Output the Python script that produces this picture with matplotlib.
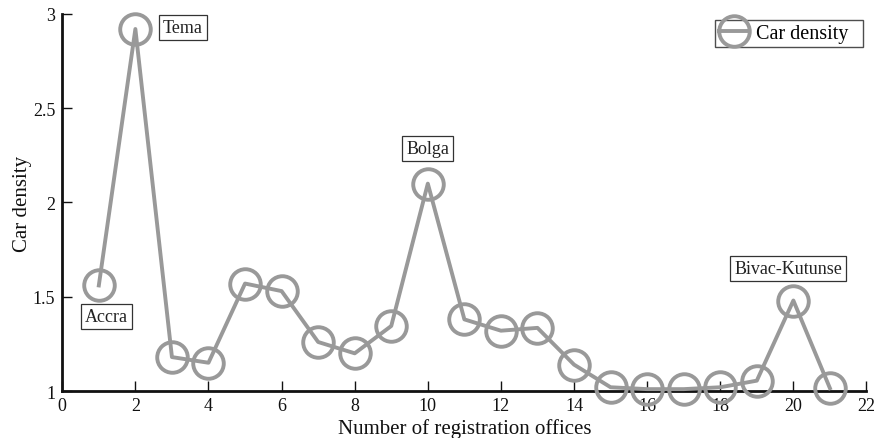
import numpy as np
import matplotlib.pyplot as plt

# registration offices and their car density
offices = np.arange(1, 22)
car_density = [1.56, 2.92, 1.18, 1.15, 1.57, 1.53, 1.26, 1.20, 1.345, 2.10,
               1.38, 1.32, 1.335, 1.14, 1.02, 1.01, 1.01, 1.02, 1.055, 1.48, 1.015]

# labelled offices: (name, x, y)
labels = ["Tema", "Accra", "Bolga", "Bivac-Kutunse"]
label_x = [3.30, 1.20, 10.0, 19.86]
label_y = [2.93, 1.393, 2.287, 1.65]

x_ticks = np.arange(0, 23, 2)
y_ticks = [1, 1.5, 2, 2.5, 3]

plt.rcParams['font.family'] = ['Liberation Serif', 'DejaVu Serif']

fig = plt.figure(figsize=(8.77, 4.39), dpi=100)
ax = fig.add_axes([0.071, 0.107, 0.917, 0.859])

gray = '#999999'
ax.plot(offices, car_density, color=gray, lw=2.8, marker='o', ms=22,
        mfc='none', mec=gray, mew=2.8, clip_on=False, label='Car density',
        zorder=3)

for name, lx, ly in zip(labels, label_x, label_y):
    ax.text(lx, ly, name, ha='center', va='center', fontsize=13,
            color='#222222',
            bbox=dict(boxstyle='square,pad=0.22', fc='white', ec='#333333',
                      lw=0.9))

ax.set_xlim(0, 22)
ax.set_ylim(1, 3)
ax.set_xticks(x_ticks)
ax.set_yticks(y_ticks)
ax.set_yticklabels(['1', '1.5', '2', '2.5', '3'])

for s in ['top', 'right']:
    ax.spines[s].set_visible(False)
for s in ['left', 'bottom']:
    ax.spines[s].set_linewidth(2)
    ax.spines[s].set_color('#111111')

ax.tick_params(direction='in', length=7, width=1, labelsize=13,
               colors='#111111')
ax.tick_params(axis='x', pad=4)
ax.tick_params(axis='y', pad=5)

ax.set_xlabel('Number of registration offices', fontsize=15, labelpad=3,
              color='#111111')
ax.set_ylabel('Car density', fontsize=15, color='#111111')
ax.yaxis.set_label_coords(-0.038, 0.5)

leg = ax.legend(loc='upper right', bbox_to_anchor=(0.9837, 0.9528),
                bbox_transform=fig.transFigure, borderaxespad=0,
                fancybox=False, fontsize=14.5, handlelength=1.45,
                handletextpad=0.4, borderpad=0.2)
leg.get_frame().set_edgecolor('#222222')
leg.get_frame().set_linewidth(1.0)
for t in leg.get_texts():
    t.set_text('Car density  ')

fig.savefig('out.png', dpi=100)
